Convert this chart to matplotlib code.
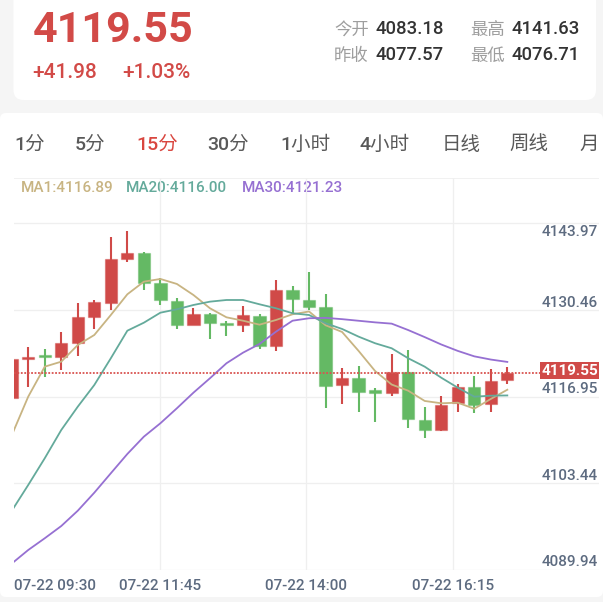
import numpy as np
import matplotlib
matplotlib.use("Agg")
import matplotlib.pyplot as plt
from matplotlib.patches import FancyBboxPatch
from matplotlib.colors import to_rgba

plt.rcParams['font.family'] = ['Roboto', 'Noto Sans CJK SC', 'DejaVu Sans']

# ---------------- data ----------------
last_price = 4119.55
change = "+41.98"
change_pct = "+1.03%"
quote_labels = ["今开", "最高", "昨收", "最低"]
quote_values = ["4083.18", "4141.63", "4077.57", "4076.71"]

tabs = ["1分", "5分", "15分", "30分", "1小时", "4小时", "日线", "周线", "月"]
active_tab = "15分"

opens = [4115.56, 4121.80, 4122.20, 4121.95, 4124.23, 4128.29, 4130.47, 4137.33,
         4138.22, 4133.50, 4130.78, 4126.99, 4128.71, 4127.20, 4126.99, 4128.44,
         4123.72, 4132.45, 4130.84, 4129.80, 4117.63, 4118.72, 4116.65, 4116.43,
         4119.66, 4112.22, 4110.56, 4114.78, 4117.32, 4114.62, 4118.36]
highs = [4121.64, 4123.56, 4123.20, 4125.90, 4130.42, 4130.84, 4140.67, 4141.60,
         4138.30, 4134.37, 4131.20, 4129.64, 4128.91, 4127.62, 4129.96, 4128.66,
         4134.01, 4133.12, 4135.21, 4131.83, 4120.28, 4120.64, 4117.21, 4122.47,
         4123.04, 4114.25, 4115.92, 4117.74, 4119.08, 4120.13, 4120.49]
lows = [4115.56, 4117.37, 4118.93, 4119.97, 4122.20, 4126.32, 4129.28, 4136.77,
        4132.45, 4130.06, 4126.32, 4126.95, 4124.76, 4125.23, 4125.85, 4123.20,
        4122.98, 4128.82, 4129.38, 4114.04, 4114.67, 4113.37, 4111.91, 4115.96,
        4110.97, 4109.32, 4110.50, 4113.47, 4113.22, 4113.37, 4117.79]
closes = [4121.64, 4121.95, 4122.10, 4124.23, 4128.29, 4130.53, 4137.29, 4138.22,
          4133.59, 4130.89, 4126.99, 4128.71, 4127.30, 4127.10, 4128.50, 4123.72,
          4132.50, 4131.05, 4129.85, 4117.43, 4118.72, 4116.49, 4116.55, 4119.66,
          4112.33, 4110.66, 4114.51, 4117.32, 4114.51, 4118.30, 4119.55]

ma1 = [4109.77, 4115.81, 4120.49, 4121.27, 4123.87, 4125.43, 4128.55, 4131.78,
       4133.75, 4134.17, 4133.39, 4131.67, 4129.60, 4128.19, 4127.66, 4127.04,
       4127.77, 4128.66, 4129.10, 4126.95, 4125.90, 4122.94, 4119.80, 4117.70,
       4116.74, 4115.14, 4114.78, 4114.87, 4113.93, 4115.45, 4116.89]
ma20 = [4097.99, 4102.03, 4106.20, 4110.61, 4114.25, 4117.63, 4121.80, 4126.10,
        4127.35, 4128.91, 4129.44, 4130.11, 4130.63, 4130.89, 4130.89, 4130.22,
        4129.60, 4128.82, 4128.55, 4127.26, 4126.37, 4125.17, 4124.14, 4123.36,
        4121.80, 4120.49, 4118.77, 4117.21, 4115.81, 4115.96, 4116.00]
ma30 = [4089.77, 4091.89, 4093.72, 4095.63, 4098.02, 4100.83, 4103.86, 4106.87,
        4109.57, 4111.66, 4114.00, 4116.43, 4118.68, 4121.02, 4122.67, 4124.03,
        4125.95, 4127.66, 4128.04, 4128.10, 4127.90, 4127.65, 4127.40, 4127.20,
        4126.20, 4125.10, 4123.95, 4122.95, 4122.10, 4121.60, 4121.23]

price_ticks = [4143.97, 4130.46, 4116.95, 4103.44, 4089.94]
time_labels = ["07-22 09:30", "07-22 11:45", "07-22 14:00", "07-22 16:15"]

# ---------------- style ----------------
RED = '#d04a48'
GREEN = '#64b964'
C_MA1 = '#c8b482'
C_MA20 = '#64aa9b'
C_MA30 = '#9670d2'
AXIS_TXT = '#5d6b80'
GRID = '#efefef'
MED = 'medium'

W, H = 603, 602
fig = plt.figure(figsize=(W / 100, H / 100), dpi=100)
fig.patch.set_facecolor('#f5f5f5')

bg = fig.add_axes([0, 0, 1, 1])
bg.set_xlim(0, W)
bg.set_ylim(H, 0)
bg.axis('off')

bg.add_patch(FancyBboxPatch((13.5, -30), 582.5, 130,
                            boxstyle='round,pad=0,rounding_size=10',
                            fc='white', ec='none'))
bg.add_patch(FancyBboxPatch((0, 113), 603, 484,
                            boxstyle='round,pad=0,rounding_size=6',
                            fc='white', ec='none'))

# header
bg.text(33, 41.7, f"{last_price:.2f}", fontsize=31, fontweight='bold',
        color='#d24a47', va='baseline', ha='left')
bg.text(32, 78.3, change, fontsize=15, fontweight=MED, color='#d24a47', va='baseline')
bg.text(122, 78.3, change_pct, fontsize=15, fontweight=MED, color='#d24a47', va='baseline')

lab_x = [334, 470, 334, 470]
val_x = [376, 511.5, 376, 511.5]
row_y = [33.5, 33.5, 60, 60]
for lab, val, lx, vx, yy in zip(quote_labels, quote_values, lab_x, val_x, row_y):
    bg.text(lx, yy + 1, lab, fontsize=12.5, color='#9e9e9e', va='baseline')
    bg.text(vx, yy, val, fontsize=13.3, fontweight=MED, color='#333333', va='baseline')

# tabs
tab_x = [14.6, 75, 136.5, 207.7, 280, 360, 442, 509.6, 579]
for t, tx in zip(tabs, tab_x):
    bg.text(tx, 150, t, fontsize=14, fontweight=MED,
            color='#d9463f' if t == active_tab else '#595959', va='baseline')

# legend
legend_items = [("MA1", ma1[-1], C_MA1, 21), ("MA20", ma20[-1], C_MA20, 126),
                ("MA30", ma30[-1], C_MA30, 241.5)]
for name, val, col, lx in legend_items:
    bg.text(lx, 191.7, f"{name}:{val:.2f}", fontsize=11, fontweight=MED,
            color=col, va='baseline')

# ---------------- chart ----------------
left_px, right_px, top_px, bot_px = 13.5, 599, 178, 570
ax = fig.add_axes([left_px / W, (H - bot_px) / H, (right_px - left_px) / W,
                   (bot_px - top_px) / H])
ax.set_facecolor('none')
for s in ax.spines.values():
    s.set_visible(False)
ax.set_xticks([])
ax.set_yticks([])

xl = (0.109, 35.55)
yl = (4088.77, 4149.92)
ax.set_xlim(*xl)
ax.set_ylim(*yl)

# grid
grid_shift = 1.14
for v in price_ticks:
    ax.axhline(v - grid_shift, color=GRID, lw=0.9, zorder=0)
ax.axhline(yl[1], color=GRID, lw=1.2, zorder=0)
for f in (0.25, 0.5, 0.75):
    ax.axvline(xl[0] + f * (xl[1] - xl[0]), color=GRID, lw=0.9, zorder=0)

# candles
idx = np.arange(len(opens))
min_h = 0.36
for i in idx:
    o, h, l, c = opens[i], highs[i], lows[i], closes[i]
    col = RED if c >= o else GREEN
    ax.vlines(i, l, h, color=col, lw=1.5, zorder=2)
    if abs(c - o) < min_h:
        mid = (o + c) / 2
        b, hh = mid - min_h / 2, min_h
    else:
        b, hh = min(o, c), abs(c - o)
    ax.bar(i, hh, width=0.745, bottom=b, color=col,
           edgecolor=to_rgba(col, 0.45), linewidth=0.9, zorder=3)

# moving averages
ax.plot(idx, ma1, color=C_MA1, lw=1.3, zorder=4)
ax.plot(idx, ma20, color=C_MA20, lw=1.3, zorder=4)
ax.plot(idx, ma30, color=C_MA30, lw=1.3, zorder=4)

# last price dotted line and tag
ax.axhline(closes[-1], xmin=0, xmax=(542 - left_px) / (right_px - left_px),
           color='#d9534f', lw=1.3, linestyle=(0, (1.0, 0.9)), zorder=5)

ytr = ax.get_yaxis_transform()
for k, v in enumerate(price_ticks):
    off = -11.4 if k == 0 else 0
    ax.annotate(f"{v:.2f}", xy=(0.998, v), xycoords=ytr, xytext=(0, off),
                textcoords='offset points', ha='right', va='center',
                fontsize=11, fontweight=MED, color=AXIS_TXT, zorder=6)

ax.annotate(f"{closes[-1]:.2f}", xy=(0.998, closes[-1]), xycoords=ytr,
            xytext=(0, 1.5), textcoords='offset points', ha='right', va='center',
            fontsize=11, fontweight='bold', color='white', zorder=7,
            bbox=dict(boxstyle='square,pad=0.08', fc=RED, ec='none'))

# time labels
h_ax = bot_px - top_px
for k, t in enumerate(time_labels):
    ax.text(0.25 * k, -20 / h_ax, t, transform=ax.transAxes,
            ha='left' if k == 0 else 'center', va='baseline',
            fontsize=11, fontweight=MED, color=AXIS_TXT)

fig.savefig("out.png", dpi=100, facecolor=fig.get_facecolor())
